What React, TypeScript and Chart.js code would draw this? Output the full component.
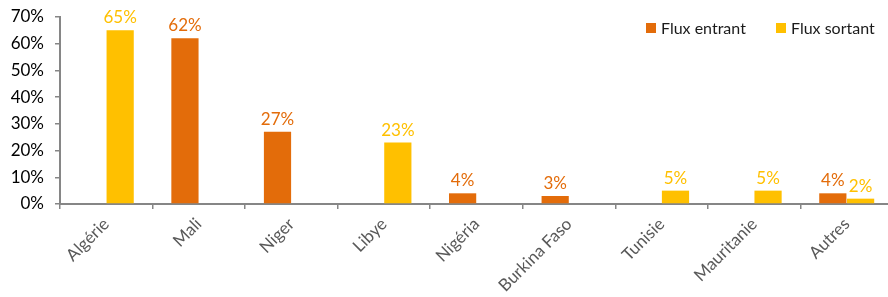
import React, { useEffect, useRef } from "react";
import { Chart, registerables } from "chart.js";
Chart.register(...registerables);

const categories = ["Algérie", "Mali", "Niger", "Libye", "Nigéria", "Burkina Faso", "Tunisie", "Mauritanie", "Autres"];
const fluxEntrant = [null, 62, 27, null, 4, 3, null, null, 4];
const fluxSortant = [65, null, null, 23, null, null, 5, 5, 2];
const yTicks = [0, 10, 20, 30, 40, 50, 60, 70];

const ORANGE = "#E36C0A";
const YELLOW = "#FFC000";
const FONT = "Lato, 'Open Sans', sans-serif";

const labelPlugin = {
  id: "barLabels",
  afterDatasetsDraw(chart: any) {
    const ctx = chart.ctx;
    ctx.save();
    ctx.font = `17px ${FONT}`;
    ctx.textAlign = "center";
    ctx.textBaseline = "bottom";
    chart.data.datasets.forEach((ds: any, i: number) => {
      const meta = chart.getDatasetMeta(i);
      meta.data.forEach((el: any, j: number) => {
        const v = ds.data[j];
        if (v === null || v === undefined) return;
        ctx.fillStyle = ds.backgroundColor;
        ctx.fillText(v + "%", el.x, el.y - 4);
      });
    });
    ctx.restore();
  },
};

const legendPlugin = {
  id: "customLegend",
  afterDraw(chart: any) {
    const ctx = chart.ctx;
    ctx.save();
    ctx.font = `16px ${FONT}`;
    ctx.textBaseline = "middle";
    ctx.textAlign = "left";
    const items = chart.data.datasets.map((d: any) => ({ label: d.label, color: d.backgroundColor }));
    const xs = [646, 776];
    items.forEach((it: any, i: number) => {
      ctx.fillStyle = it.color;
      ctx.fillRect(xs[i], 23, 10, 10);
      ctx.fillStyle = "#1a1a1a";
      ctx.fillText(it.label, xs[i] + 15, 29);
    });
    ctx.restore();
  },
};

export default function App() {
  const ref = useRef<HTMLCanvasElement>(null);
  useEffect(() => {
    document.body.style.margin = "0";
    const chart = new Chart(ref.current!, {
      type: "bar",
      data: {
        labels: categories,
        datasets: [
          { label: "Flux entrant", data: fluxEntrant as any, backgroundColor: ORANGE },
          { label: "Flux sortant", data: fluxSortant as any, backgroundColor: YELLOW },
        ],
      },
      options: {
        animation: false,
        responsive: false,
        maintainAspectRatio: false,
        layout: { padding: { top: 17, right: 0, left: 0, bottom: 0 } },
        plugins: { legend: { display: false }, tooltip: { enabled: false } },
        datasets: { bar: { categoryPercentage: 0.6, barPercentage: 0.98 } } as any,
        scales: {
          x: {
            grid: { display: true, drawOnChartArea: false, offset: true, color: "#868686", tickLength: 5, lineWidth: 1.5 },
            border: { color: "#868686", width: 2 },
            ticks: {
              color: "#595959",
              font: { family: FONT, size: 17 },
              minRotation: 45,
              maxRotation: 45,
              padding: 5,
              autoSkip: false,
            },
            afterFit: (s: any) => { s.height = 93; s.paddingLeft = 0; s.paddingRight = 0; },
          },
          y: {
            min: 0,
            max: 70,
            afterBuildTicks: (s: any) => { s.ticks = yTicks.map((v) => ({ value: v })); },
            grid: { display: true, drawOnChartArea: false, color: "#868686", tickLength: 5, lineWidth: 1.5 },
            border: { color: "#868686", width: 2 },
            ticks: {
              color: "#000000",
              font: { family: FONT, size: 17 },
              padding: 11,
              callback: (v: any) => v + "%",
            },
            afterFit: (s: any) => { s.width = 60; s.paddingTop = 0; s.paddingBottom = 0; },
          },
        },
      },
      plugins: [labelPlugin, legendPlugin],
    });
    return () => chart.destroy();
  }, []);
  return (
    <div style={{ width: 888, height: 297, overflow: "hidden", background: "#fff" }}>
      <canvas ref={ref} width={893} height={297} style={{ display: "block" }} />
    </div>
  );
}
